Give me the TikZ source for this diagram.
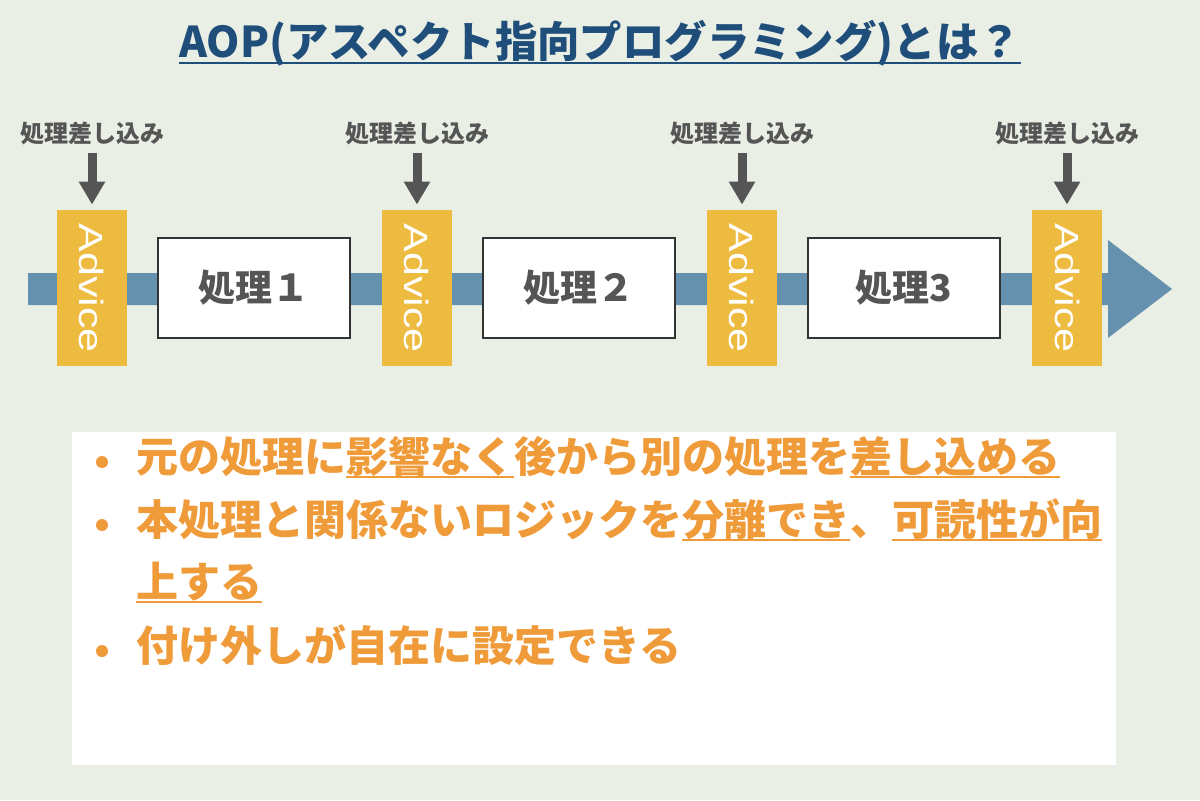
\documentclass[tikz,border=0pt]{standalone}
\usepackage{fontspec}
\usepackage{graphicx}
\setmainfont{Noto Sans CJK JP}
\newfontfamily\advfont{Liberation Sans}
\usetikzlibrary{arrows.meta}
\definecolor{bgcol}{HTML}{EAEFE6}
\definecolor{titlecol}{HTML}{1F4E7A}
\definecolor{advcol}{HTML}{EDBB40}
\definecolor{barcol}{HTML}{6590AE}
\definecolor{graytxt}{HTML}{555555}
\definecolor{orangecol}{HTML}{F09B3A}
\newcommand\myul[3]{\setbox0=\hbox{#3}\rlap{\smash{\rule[-#1]{\wd0}{#2}}}\box0}
\tikzset{
  titlestyle/.style={font=\fontsize{21.2}{24}\selectfont\bfseries, text=titlecol, inner sep=0pt, anchor=base},
  lbl/.style={font=\fontsize{12}{14}\selectfont\bfseries, text=graytxt, inner sep=0pt},
  dnarrow/.style={draw=graytxt, line width=4.5pt, -{Triangle[width=12.5pt,length=11.5pt]}, shorten <=4pt, shorten >=2.5pt},
  advice/.style={fill=advcol, draw=none, rotate=-90, minimum width=78pt, minimum height=35pt, inner sep=0pt,
     text=white, font=\advfont\fontsize{16.8}{18}\selectfont},
  proc/.style={fill=white, draw=black!80, line width=0.75pt, minimum width=96pt, minimum height=50pt, inner sep=0pt,
     text=graytxt, font=\fontsize{18.5}{20}\selectfont\bfseries},
  bul/.style={circle, fill=orangecol, inner sep=0pt, minimum size=6pt},
  btxt/.style={anchor=base west, inner sep=0pt, text=orangecol, font=\fontsize{21}{24}\selectfont\bfseries},
}
\begin{document}
\begin{tikzpicture}[x=0.5pt,y=-0.5pt]
\useasboundingbox[fill=bgcol] (0,0) rectangle (1200,800);
% title
\node[titlestyle] (title) at (600,57) {\myul{3.6pt}{1pt}{AOP(アスペクト指向プログラミング)とは？}};
% flow bar
\fill[barcol] (28,273) -- (1108,273) -- (1108,240) -- (1172,289) -- (1108,338) -- (1108,305) -- (28,305) -- cycle;
% advice boxes
\node[advice] (a1) at (92,288) {\scalebox{1.28}[1]{Advice}};
\node[advice] (a2) at (417,288) {\scalebox{1.28}[1]{Advice}};
\node[advice] (a3) at (742,288) {\scalebox{1.28}[1]{Advice}};
\node[advice] (a4) at (1067,288) {\scalebox{1.28}[1]{Advice}};
% process boxes
\node[proc] (p1) at (254,288) {処理１};
\node[proc] (p2) at (579,288) {処理２};
\node[proc] (p3) at (904,288) {処理3};
% labels
\node[lbl] (l1) at (92,133) {処理差し込み};
\node[lbl] (l2) at (417,133) {処理差し込み};
\node[lbl] (l3) at (742,133) {処理差し込み};
\node[lbl] (l4) at (1067,133) {処理差し込み};
\draw[dnarrow] (l1.south) -- (a1);
\draw[dnarrow] (l2.south) -- (a2);
\draw[dnarrow] (l3.south) -- (a3);
\draw[dnarrow] (l4.south) -- (a4);
% panel
\fill[white] (72,432) rectangle (1116,765);
\node[bul] (b1) at (102,462) {};
\node[btxt] (t1) at (136,472) {元の処理に\myul{3.1pt}{1.1pt}{影響なく}後から別の処理を\myul{3.1pt}{1.1pt}{差し込める}};
\node[bul] (b2) at (102,525) {};
\node[btxt] (t2) at (136,535) {本処理と関係ないロジックを\myul{3.1pt}{1.1pt}{分離でき}、\myul{3.1pt}{1.1pt}{可読性が向}};
\node[btxt] (t3) at (136,597) {\myul{3.1pt}{1.1pt}{上する}};
\node[bul] (b4) at (102,651) {};
\node[btxt] (t4) at (136,661) {付け外しが自在に設定できる};
\end{tikzpicture}
\end{document}
